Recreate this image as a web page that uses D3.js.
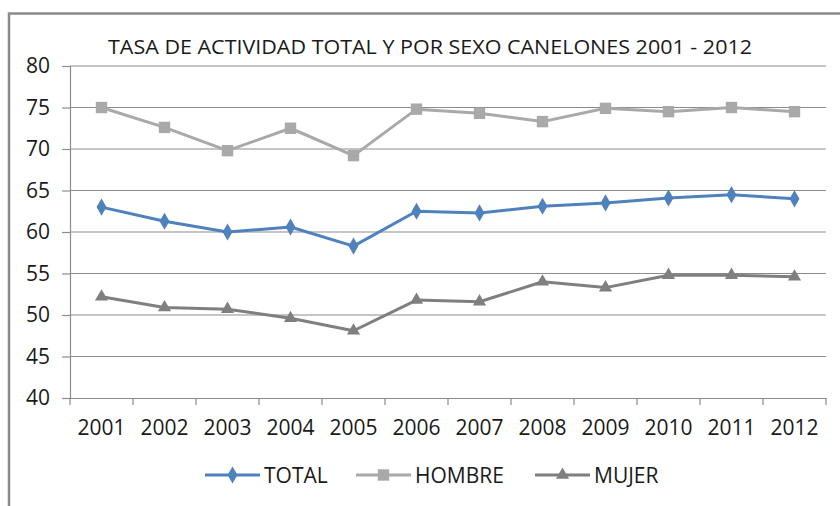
<!DOCTYPE html>
<html>
<head>
<meta charset="utf-8">
<script src="https://cdn.jsdelivr.net/npm/d3@7"></script>
<style>
  html, body { margin: 0; padding: 0; background: #fff; }
  svg { display: block; }
  text { font-family: "Open Sans", sans-serif; fill: #1a1a1a; }
</style>
</head>
<body>
<svg id="chart" width="840" height="506"></svg>
<script>
const years = ["2001","2002","2003","2004","2005","2006","2007","2008","2009","2010","2011","2012"];
const total  = [63.0, 61.3, 60.0, 60.6, 58.3, 62.5, 62.3, 63.1, 63.5, 64.1, 64.5, 64.0];
const hombre = [75.0, 72.6, 69.8, 72.5, 69.2, 74.8, 74.3, 73.3, 74.9, 74.5, 75.0, 74.5];
const mujer  = [52.2, 50.9, 50.7, 49.6, 48.1, 51.8, 51.6, 54.0, 53.3, 54.8, 54.8, 54.6];
const yTicks = [40, 45, 50, 55, 60, 65, 70, 75, 80];
const seriesNames = ["TOTAL", "HOMBRE", "MUJER"];
const title = "TASA DE ACTIVIDAD TOTAL Y POR SEXO CANELONES 2001 - 2012";

const series = [
  { name: seriesNames[0], values: total,  color: "#4F81BD", symbol: d3.symbolDiamond,  size: 85 },
  { name: seriesNames[1], values: hombre, color: "#A9A9A9", symbol: d3.symbolSquare,   size: 130 },
  { name: seriesNames[2], values: mujer,  color: "#7F7F7F", symbol: d3.symbolTriangle, size: 75 }
];

const svg = d3.select("#chart");
const pLeft = 70, pRight = 826, pTop = 66, pBottom = 398;

// outer frame
svg.append("path")
  .attr("d", "M9,506 L9,13.5 L840,13.5")
  .attr("fill", "none").attr("stroke", "#8a8a8a").attr("stroke-width", 2.5);

const x = d3.scaleBand().domain(years).range([pLeft, pRight]);
const y = d3.scaleLinear().domain([40, 80]).range([pBottom, pTop]);

// gridlines
svg.append("g").selectAll("line").data(yTicks.filter(t => t > 40)).join("line")
  .attr("x1", pLeft).attr("x2", pRight)
  .attr("y1", d => y(d)).attr("y2", d => y(d))
  .attr("stroke", "#8c8c8c").attr("stroke-width", 1.2);

// y axis
const yAxis = svg.append("g").attr("transform", `translate(${pLeft},0)`)
  .call(d3.axisLeft(y).tickValues(yTicks).tickSize(8).tickPadding(12));
yAxis.select(".domain").attr("stroke", "#8c8c8c").attr("stroke-width", 1.2);
yAxis.selectAll(".tick line").attr("stroke", "#8c8c8c").attr("stroke-width", 1.2);
yAxis.selectAll("text").style("font-family", "'Open Sans', sans-serif").style("font-size", "21px").attr("fill", "#1a1a1a");

// x axis
const xAxis = svg.append("g").attr("transform", `translate(0,${pBottom})`)
  .call(d3.axisBottom(x).tickSize(0).tickPadding(22));
xAxis.select(".domain").attr("stroke", "#8c8c8c").attr("stroke-width", 1.2);
xAxis.selectAll("text").style("font-family", "'Open Sans', sans-serif").style("font-size", "21px").attr("fill", "#1a1a1a");
// category boundary ticks
const bounds = years.map(d => x(d)).concat([x(years[years.length - 1]) + x.bandwidth()]);
svg.append("g").selectAll("line").data(bounds).join("line")
  .attr("x1", d => d).attr("x2", d => d)
  .attr("y1", pBottom).attr("y2", pBottom + 7)
  .attr("stroke", "#8c8c8c").attr("stroke-width", 1.2);

// lines and markers
const cx = (d, i) => x(years[i]) + x.bandwidth() / 2;
const line = d3.line().x(cx).y(d => y(d));
series.forEach(s => {
  svg.append("path").datum(s.values)
    .attr("d", line).attr("fill", "none")
    .attr("stroke", s.color).attr("stroke-width", 3).attr("stroke-linejoin", "round");
  svg.append("g").selectAll("path").data(s.values).join("path")
    .attr("d", d3.symbol().type(s.symbol).size(s.size))
    .attr("transform", (d, i) => `translate(${cx(d, i)},${y(d)})`)
    .attr("fill", s.color);
});

// title
svg.append("text")
  .attr("x", 430).attr("y", 54)
  .attr("text-anchor", "middle")
  .attr("textLength", 644).attr("lengthAdjust", "spacingAndGlyphs")
  .style("font-size", "20px")
  .text(title);

// legend
const legendX = [205, 356, 535];
const legendY = 475;
series.forEach((s, i) => {
  const g = svg.append("g").attr("transform", `translate(${legendX[i]},${legendY})`);
  g.append("line").attr("x1", 0).attr("x2", 55).attr("y1", 0).attr("y2", 0)
    .attr("stroke", s.color).attr("stroke-width", 3);
  g.append("path").attr("d", d3.symbol().type(s.symbol).size(s.size)).attr("transform", "translate(27.5,0)").attr("fill", s.color);
  g.append("text").attr("x", 59).attr("y", 0).attr("dy", "0.36em")
    .style("font-size", "21px").text(s.name);
});
</script>
</body>
</html>
